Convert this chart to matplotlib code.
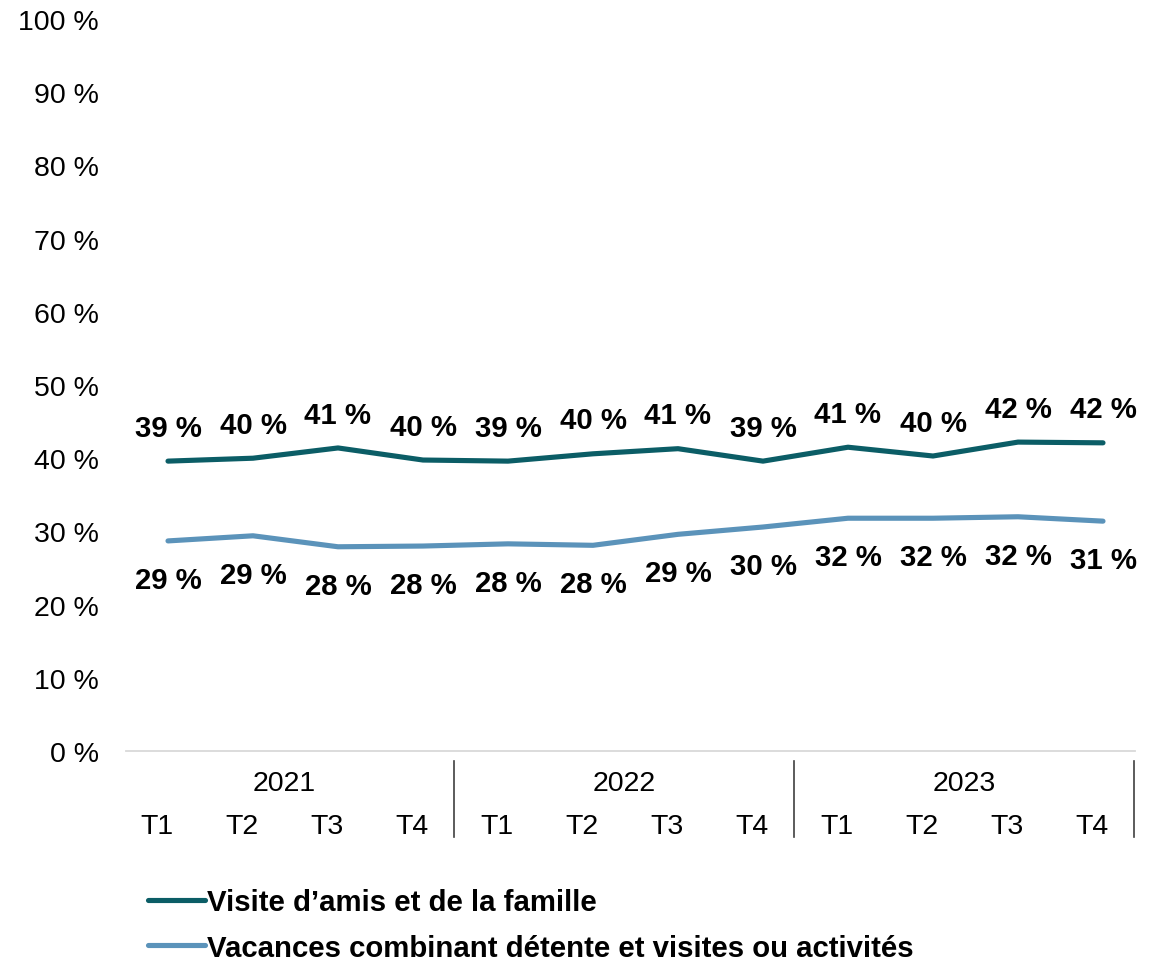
import matplotlib.pyplot as plt
from matplotlib.transforms import blended_transform_factory

plt.rcParams['font.family'] = ['Liberation Sans', 'DejaVu Sans']

years = ['2021', '2022', '2023']
quarters = ['T1', 'T2', 'T3', 'T4']
visite = [39.6, 40.0, 41.4, 39.75, 39.6, 40.6, 41.3, 39.6, 41.5, 40.3, 42.2, 42.1]
visite_labels = ['39 %', '40 %', '41 %', '40 %', '39 %', '40 %', '41 %', '39 %', '41 %', '40 %', '42 %', '42 %']
vacances = [28.7, 29.4, 27.9, 28.0, 28.3, 28.1, 29.6, 30.6, 31.8, 31.8, 32.0, 31.4]
vacances_labels = ['29 %', '29 %', '28 %', '28 %', '28 %', '28 %', '29 %', '30 %', '32 %', '32 %', '32 %', '31 %']
series_names = ['Visite d\u2019amis et de la famille',
                'Vacances combinant d\u00e9tente et visites ou activit\u00e9s']

dark = '#0B5D66'
light = '#5B93BA'
fs = 20.5
fs_bold = 21.2

fig = plt.figure(figsize=(11.53, 9.62), dpi=100)
# points sit at 168 + 85*k px
ax = fig.add_axes([125.5 / 1153, 1 - 752 / 962, 1020 / 1153, 732 / 962])

x = list(range(len(visite)))
l1, = ax.plot(x, visite, color=dark, lw=3.7, solid_capstyle='round', label=series_names[0])
l2, = ax.plot(x, vacances, color=light, lw=3.7, solid_capstyle='round', label=series_names[1])

for xi, v, t in zip(x, visite, visite_labels):
    ax.annotate(t, (xi, v), xytext=(0, 24), textcoords='offset points',
                ha='center', va='center', fontsize=fs_bold, fontweight='bold')
for xi, v, t in zip(x, vacances, vacances_labels):
    ax.annotate(t, (xi, v), xytext=(0, -28), textcoords='offset points',
                ha='center', va='center', fontsize=fs_bold, fontweight='bold')

ax.set_xlim(-0.5, len(x) - 0.5)
ax.set_ylim(0, 100)
ax.set_yticks(range(0, 101, 10))
ax.set_yticklabels([f'{v} %' for v in range(0, 101, 10)], fontsize=fs)
ax.tick_params(axis='y', length=0, pad=19)
ax.set_xticks([])
for s in ['top', 'right', 'left']:
    ax.spines[s].set_visible(False)
ax.spines['bottom'].set_color('#D9D9D9')
ax.spines['bottom'].set_linewidth(1.3)
ax.spines['bottom'].set_bounds(-0.5, 11.38)

# category labels sit a little left of the points, as in the original
shift = -0.13
trans = blended_transform_factory(ax.transData, ax.transAxes)
for i, yr in enumerate(years):
    ax.text(i * 4 + 1.5 + shift, -32 / 732, yr, transform=trans, ha='center', va='center', fontsize=fs)
    for j, q in enumerate(quarters):
        ax.text(i * 4 + j + shift, -75 / 732, q, transform=trans, ha='center', va='center', fontsize=fs)
    ax.plot([i * 4 + 3.5 + shift] * 2, [-10 / 732, -86 / 732], transform=trans, color='#404040',
            lw=1.2, clip_on=False)

fig.legend(handles=[l1, l2], loc='upper left', bbox_to_anchor=(148 / 1153, 1 - 889 / 962),
           frameon=False, prop={'size': fs_bold, 'weight': 'bold'}, handlelength=1.95,
           handletextpad=0.05, labelspacing=0.6, borderaxespad=0, borderpad=0)

fig.savefig('out.png', dpi=100)
